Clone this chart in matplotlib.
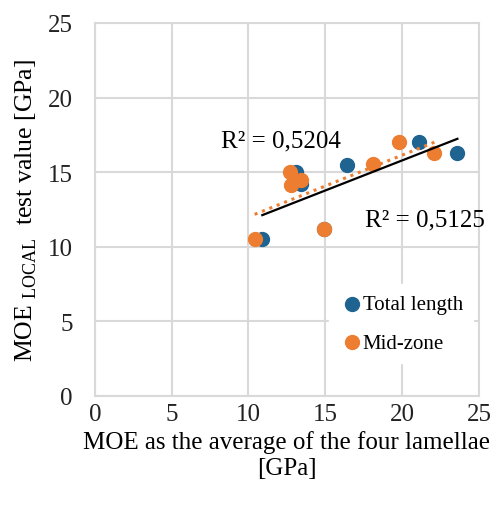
import numpy as np
import matplotlib
matplotlib.use('Agg')
import matplotlib.pyplot as plt

plt.rcParams['font.family'] = ['Liberation Serif', 'DejaVu Serif']
plt.rcParams['mathtext.fontset'] = 'custom'
plt.rcParams['mathtext.rm'] = 'Liberation Serif'

# Data (one blue point sits under an orange one)
total_x = [10.9, 13.1, 13.4, 14.9, 16.4, 21.1, 23.6]
total_y = [10.5, 15.0, 14.2, 11.2, 15.5, 17.05, 16.3]
mid_x = [10.4, 12.7, 12.75, 13.4, 14.9, 18.1, 19.8, 22.1]
mid_y = [10.5, 15.0, 14.15, 14.5, 11.2, 15.55, 17.05, 16.3]
series_labels = ['Total length', 'Mid-zone']
r2_labels = ['R² = 0,5204', 'R² = 0,5125']
ticks = [0, 5, 10, 15, 20, 25]

blue = '#1F6391'
orange = '#ED7D31'
grid_col = '#D9D9D9'

fig = plt.figure(figsize=(5.02, 5.10), dpi=100, facecolor='white')
ax = fig.add_axes([0.189, 0.222, 0.765, 0.731])

ax.scatter(total_x, total_y, s=100, color=blue, zorder=3, label=series_labels[0])
ax.scatter(mid_x, mid_y, s=100, color=orange, zorder=4, label=series_labels[1])

# linear trendlines
p1 = np.polyfit(total_x, total_y, 1)
xs = np.array([min(total_x), max(total_x)])
ax.plot(xs, np.polyval(p1, xs), color='black', lw=1.6, zorder=5)
p2 = np.polyfit(mid_x, mid_y, 1)
xs2 = np.array([min(mid_x), max(mid_x)])
ax.plot(xs2, np.polyval(p2, xs2), color=orange, lw=2.2, ls=(0, (1, 1.6)), zorder=5)

ax.text(8.2, 17.1, r2_labels[0], fontsize=18, va='center', ha='left')
ax.text(17.6, 11.85, r2_labels[1], fontsize=18, va='center', ha='left')

ax.set_xlim(0, 25)
ax.set_ylim(0, 25)
ax.set_xticks(ticks)
ax.set_yticks(ticks)
ax.grid(True, color=grid_col, lw=1.5, zorder=0)
ax.set_axisbelow(True)
for sp in ax.spines.values():
    sp.set_color(grid_col)
    sp.set_linewidth(1.5)
ax.tick_params(length=0, labelsize=18, colors='#222222')
ax.tick_params(axis='y', pad=16)
ax.tick_params(axis='x', pad=5)

ax.set_xlabel('MOE as the average of the four lamellae\n[GPa]', fontsize=18, labelpad=4, linespacing=1.2)
ax.set_ylabel(r'MOE$_{\ \mathrm{LOCAL}}$  test value [GPa]', fontsize=18.5, labelpad=6)

leg = ax.legend(loc='lower right', bbox_to_anchor=(1.013, 0.06), frameon=True, fontsize=15,
                handletextpad=-0.1, borderpad=0.5, labelspacing=0.9, handlelength=1.2,
                markerscale=1.0)
leg.get_frame().set_facecolor('white')
leg.get_frame().set_edgecolor('white')
leg.get_frame().set_alpha(1)

plt.savefig('out.png', dpi=100, facecolor='white')
